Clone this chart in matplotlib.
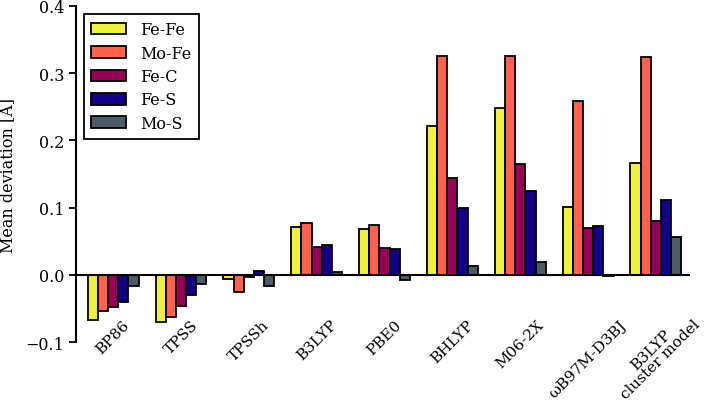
"""Mean deviation of bond distances per functional."""

import matplotlib
matplotlib.use("Agg")
import matplotlib.pyplot as plt
import numpy as np

methods = ["BP86", "TPSS", "TPSSh", "B3LYP", "PBE0", "BHLYP", "M06-2X",
           "ωB97M-D3BJ", "B3LYP\ncluster model"]
series = ["Fe-Fe", "Mo-Fe", "Fe-C", "Fe-S", "Mo-S"]

fe_fe = [-0.067, -0.070, -0.006, 0.072, 0.068, 0.221, 0.248, 0.101, 0.167]
mo_fe = [-0.053, -0.063, -0.025, 0.077, 0.074, 0.325, 0.325, 0.258, 0.324]
fe_c = [-0.048, -0.046, -0.003, 0.042, 0.040, 0.144, 0.165, 0.070, 0.080]
fe_s = [-0.040, -0.030, 0.006, 0.044, 0.038, 0.099, 0.125, 0.073, 0.111]
mo_s = [-0.016, -0.014, -0.017, 0.005, -0.008, 0.014, 0.019, -0.001, 0.057]

colors = ["#eef03c", "#ff614b", "#990055", "#13008a", "#4b5c67"]

plt.rcParams["font.family"] = ["DejaVu Serif"]
plt.rcParams["font.size"] = 11.5

fig = plt.figure(figsize=(7.09, 4.10), dpi=100)
ax = fig.add_axes([0.107, 0.163, 0.866, 0.82])

x = np.arange(len(methods))
width = 0.15
for k, (name, vals) in enumerate(zip(series, [fe_fe, mo_fe, fe_c, fe_s, mo_s])):
    ax.bar(x + (k - 2) * width, vals, width, color=colors[k], edgecolor="black",
           linewidth=1.3, label=name)

ax.axhline(0, color="black", linewidth=1.5, zorder=3)
ax.set_xlim(-0.55, 8.5)
ax.set_ylim(-0.1, 0.4)
ax.set_yticks([-0.1, 0.0, 0.1, 0.2, 0.3, 0.4])
ax.set_ylabel("Mean deviation [Å]", labelpad=6)

ax.set_xticks(x)
ax.set_xticklabels(methods, rotation=45, ha="center", va="top",
                   multialignment="center", fontsize=11, linespacing=0.9)
ax.tick_params(axis="x", length=0, pad=-18)
ax.tick_params(axis="y", direction="out", length=5, width=1.3)
# two-line label sits a little higher, as in the original
ax.get_xticklabels()[-1].set_y(0.03)

for side in ["top", "right", "bottom"]:
    ax.spines[side].set_visible(False)
ax.spines["left"].set_linewidth(1.5)

leg = ax.legend(loc="upper left", fancybox=False, edgecolor="black",
                framealpha=1, borderaxespad=0.5, handlelength=2.2,
                handleheight=0.75, labelspacing=0.4, handletextpad=0.87,
                borderpad=0.45)
leg.get_frame().set_linewidth(1.3)

fig.savefig("out.png", dpi=100)
